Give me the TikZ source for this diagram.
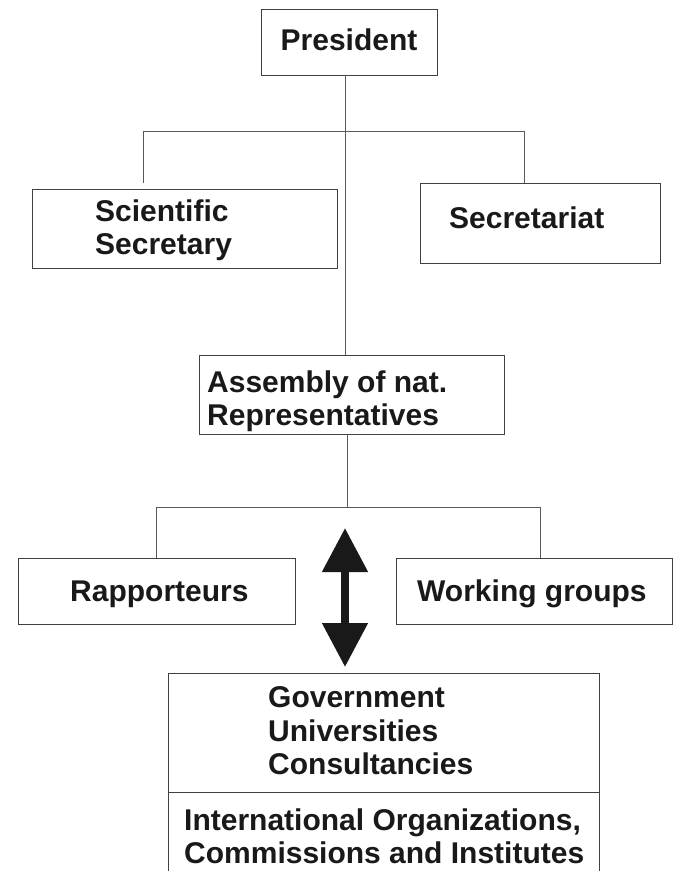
\documentclass[tikz,border=0pt]{standalone}
\usepackage{fontspec}
\setmainfont{Liberation Sans}
\usetikzlibrary{arrows.meta}
\definecolor{linegray}{gray}{0.35}
\definecolor{boxgray}{gray}{0.25}
\definecolor{ink}{gray}{0.1}
\tikzset{
  box/.style={draw=boxgray, line width=0.9pt, rectangle, inner sep=0pt, outer sep=0pt},
  txt/.style={inner sep=0pt, anchor=base west, font=\fontsize{30}{33.5}\selectfont\bfseries, text=ink},
  conn/.style={draw=linegray, line width=0.8pt},
  bigarrow/.style={draw=ink, line width=8pt, {Triangle[length=44pt,width=44pt]}-{Triangle[length=44pt,width=44pt]}}
}
\begin{document}
\begin{tikzpicture}[x=1pt,y=-1pt]
\useasboundingbox (0,0) rectangle (674,871);
% boxes
\node[box, minimum width=176pt, minimum height=66pt] (pres) at (349,42) {};
\node[box, minimum width=305pt, minimum height=79pt] (sci) at (184.5,228.5) {};
\node[box, minimum width=240pt, minimum height=80pt] (sec) at (540,223) {};
\node[box, minimum width=305pt, minimum height=79pt] (asm) at (351.5,394.5) {};
\node[box, minimum width=277pt, minimum height=66pt] (rap) at (156.5,591) {};
\node[box, minimum width=276pt, minimum height=66pt] (wg) at (534.5,591) {};
\node[box, minimum width=431pt, minimum height=119pt] (gov) at (383.5,732.5) {};
% texts
\node[txt, anchor=base] (tpres) at (349,50) {President};
\node[txt] (tsci1) at (95,221) {Scientific};
\node[txt] (tsci2) at (95,254) {Secretary};
\node[txt] (tsec) at (449,228) {Secretariat};
\node[txt] (tasm1) at (207,392) {Assembly of nat.};
\node[txt] (tasm2) at (207,425) {Representatives};
\node[txt] (trap) at (70,601) {Rapporteurs};
\node[txt] (twg) at (417,601) {Working groups};
\node[txt] (tgov1) at (268,707) {Government};
\node[txt] (tgov2) at (268,741) {Universities};
\node[txt] (tgov3) at (268,774) {Consultancies};
\node[txt] (tint1) at (184,830) {International Organizations,};
\node[txt] (tint2) at (184,863) {Commissions and Institutes};
% open lower part of the bottom box
\coordinate (botL) at (168,871);
\coordinate (botR) at (599,871);
\draw[draw=boxgray, line width=0.9pt] (gov.south west) -- (botL);
\draw[draw=boxgray, line width=0.9pt] (gov.south east) -- (botR);
% connectors
\coordinate (j1) at (345,131);
\coordinate (j1L) at (143,131);
\coordinate (j1R) at (524,131);
\coordinate (sciTop) at (143,183);
\draw[conn] (pres.south -| j1) -- (asm.north -| j1);
\draw[conn] (sciTop) -- (j1L) -- (j1R) -- (sec.north -| j1R);
\coordinate (j2) at (347,507);
\coordinate (j2L) at (156,507);
\coordinate (j2R) at (540,507);
\draw[conn] (asm.south -| j2) -- (j2);
\draw[conn] (rap.north -| j2L) -- (j2L) -- (j2R) -- (wg.north -| j2R);
% double arrow
\coordinate (atop) at (345,528);
\coordinate (abot) at (345,667);
\draw[bigarrow] (atop) -- (abot);
\end{tikzpicture}
\end{document}
